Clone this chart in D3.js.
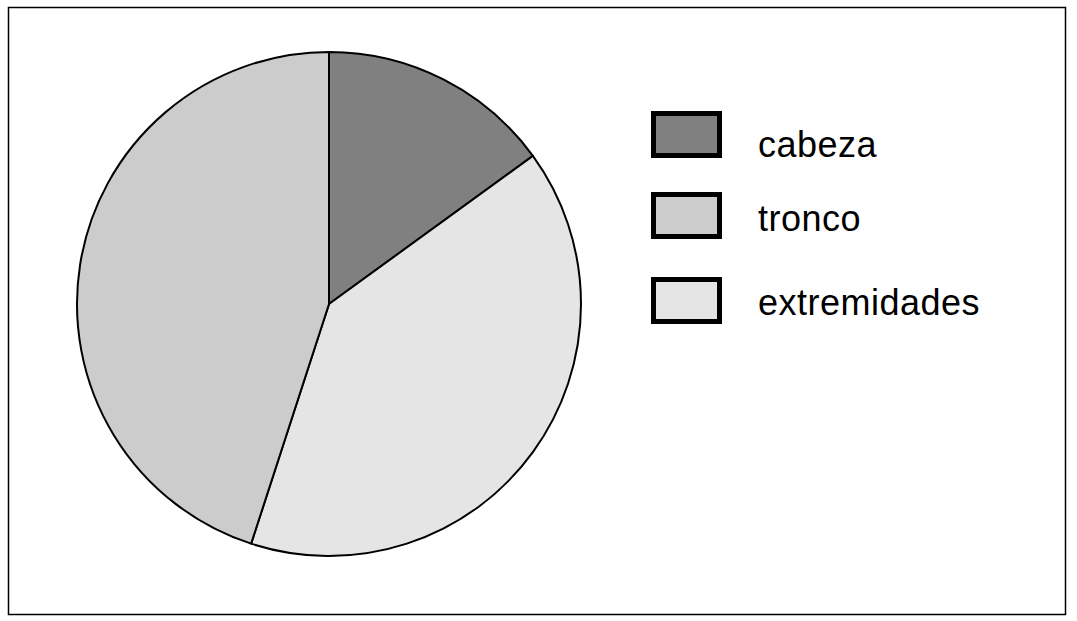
<!DOCTYPE html>
<html>
<head>
<meta charset="utf-8">
<script src="https://cdn.jsdelivr.net/npm/d3@7"></script>
<style>
  body { margin: 0; background: #fff; }
</style>
</head>
<body>
<svg id="chart" width="1077" height="621"></svg>
<script>
// data (percent)
var labels = ['cabeza', 'extremidades', 'tronco'];
var values = [15, 40, 45];
var colors = ['#808080', '#e5e5e5', '#cccccc'];
var legendOrder = ['cabeza', 'tronco', 'extremidades'];

var svg = d3.select('#chart'),
  cx = 329,
  cy = 304,
  radius = 252;

// frame
svg.append('rect')
  .attr('x', 8.5).attr('y', 7.5)
  .attr('width', 1057).attr('height', 607)
  .attr('fill', 'none')
  .attr('stroke', '#000')
  .attr('stroke-width', 1.5);

var color = d3.scaleOrdinal().domain(labels).range(colors);

var data = labels.map(function (l, i) { return { label: l, value: values[i] }; });

var pie = d3.pie().sort(null).value(function (d) { return d.value; });
var arc = d3.arc().innerRadius(0).outerRadius(radius);

var g = svg.append('g').attr('transform', 'translate(' + cx + ',' + cy + ')');

g.selectAll('path')
  .data(pie(data))
  .enter()
  .append('path')
  .attr('d', arc)
  .attr('fill', function (d) { return color(d.data.label); })
  .attr('stroke', '#000')
  .attr('stroke-width', 2)
  .attr('stroke-linejoin', 'round');

// legend (box tops and text baselines are not evenly spaced in the original)
var boxTop = [111, 192, 277];
var textBase = [157, 231, 315];

var item = svg.append('g').selectAll('g')
  .data(legendOrder)
  .enter()
  .append('g');

item.append('rect')
  .attr('x', 653.5)
  .attr('y', function (d, i) { return boxTop[i] + 2.5; })
  .attr('width', 66).attr('height', 42)
  .attr('fill', function (d) { return color(d); })
  .attr('stroke', '#000')
  .attr('stroke-width', 5);

item.append('text')
  .attr('x', 758)
  .attr('y', function (d, i) { return textBase[i]; })
  .style('font-family', '"Liberation Sans", Arial, sans-serif')
  .style('font-size', '36px')
  .style('letter-spacing', '0.5px')
  .text(function (d) { return d; });
</script>
</body>
</html>
